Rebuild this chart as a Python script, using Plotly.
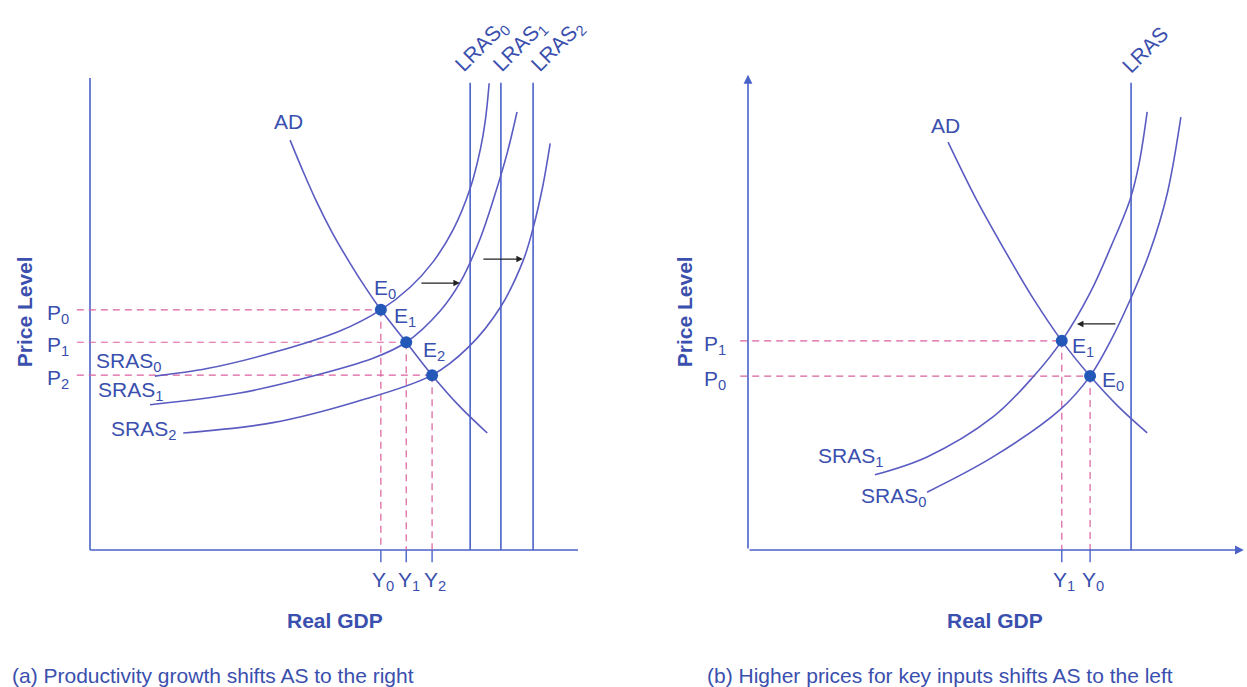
import plotly.graph_objects as go

# ---------------- DATA (arbitrary units) ----------------
# Panel (a): productivity growth shifts AS to the right
AD_A_X = [41.0, 43.4, 46.3, 49.6, 53.3, 56.6, 59.6, 64.8, 70.1, 75.8, 81.4]
AD_A_Y = [87.2, 81.2, 74.4, 67.6, 61.0, 55.6, 51.1, 44.2, 37.2, 30.5, 24.9]
SRAS0_A_X = [13.3, 24.0, 37.5, 51.2, 59.6, 65.6, 70.3, 74.4, 77.9, 80.0, 81.0, 81.8]
SRAS0_A_Y = [37.0, 38.6, 42.0, 46.6, 51.1, 55.9, 61.3, 68.1, 76.9, 85.3, 91.3, 99.3]
SRAS1_A_X = [12.3, 30.7, 44.5, 58.0, 64.8, 71.7, 76.0, 80.0, 83.0, 85.5, 87.5]
SRAS1_A_Y = [30.9, 33.4, 36.7, 40.8, 44.2, 50.8, 57.2, 66.4, 75.7, 84.5, 93.2]
SRAS2_A_X = [19.1, 37.5, 54.7, 70.1, 77.5, 84.0, 88.7, 90.8, 92.8, 94.3]
SRAS2_A_Y = [24.9, 27.1, 31.6, 37.2, 43.1, 51.5, 61.4, 68.5, 77.5, 86.5]
LRAS_A = [77.9, 84.2, 90.8]
EQ_A_NAMES = ["E<sub>0</sub>", "E<sub>1</sub>", "E<sub>2</sub>"]
EQ_A_X = [59.6, 64.8, 70.1]       # Y0, Y1, Y2
EQ_A_Y = [51.1, 44.2, 37.2]       # P0, P1, P2
P_A_LABELS = ["P<sub>0</sub>", "P<sub>1</sub>", "P<sub>2</sub>"]
Y_A_LABELS = ["Y<sub>0</sub>", "Y<sub>1</sub>", "Y<sub>2</sub>"]
LRAS_A_LABELS = ["LRAS<sub>0</sub>", "LRAS<sub>1</sub>", "LRAS<sub>2</sub>"]

# Panel (b): higher prices for key inputs shift AS to the left
AD_B_X = [41.0, 46.9, 53.7, 58.4, 64.3, 70.1, 75.8, 81.8]
AD_B_Y = [86.8, 74.4, 61.8, 53.6, 44.5, 37.0, 30.6, 24.9]
SRAS1_B_X = [26.0, 36.7, 50.2, 58.4, 64.3, 70.1, 74.4, 78.3, 80.1, 81.8]
SRAS1_B_Y = [16.0, 19.8, 28.3, 36.8, 44.5, 54.7, 64.6, 74.6, 82.0, 93.2]
SRAS0_B_X = [36.7, 50.2, 63.9, 70.1, 74.2, 78.3, 82.4, 85.9, 88.7]
SRAS0_B_Y = [12.3, 19.8, 29.8, 37.0, 44.3, 53.2, 63.6, 75.8, 92.1]
LRAS_B = 78.5
EQ_B_NAMES = ["E<sub>0</sub>", "E<sub>1</sub>"]
EQ_B_X = [70.1, 64.3]             # Y0, Y1
EQ_B_Y = [37.0, 44.5]             # P0, P1
P_B_LABELS = ["P<sub>0</sub>", "P<sub>1</sub>"]
Y_B_LABELS = ["Y<sub>0</sub>", "Y<sub>1</sub>"]

# ---------------- STYLE / LAYOUT ----------------
W, H = 1247, 687
SX, SY = 4.88, 4.7            # pixels per unit
ORIG_A = (90, 550)
ORIG_B = (748, 550)
SPLIT = 0.5

CURVE = "#5a5cc2"
AXIS = "#4a62c9"
TEXT = "#3a4fae"
DASH = "#d9609e"
DOT = "#2458b8"
ARROW = "#222222"
FONT = "Liberation Sans, Arial, sans-serif"
FS = 21

fig = go.Figure()


def line(x, y, xa, ya, color, width=1.5, dash=None, shape="linear"):
    fig.add_trace(go.Scatter(x=x, y=y, xaxis=xa, yaxis=ya, mode="lines",
                             line=dict(color=color, width=width, dash=dash, shape=shape,
                                       smoothing=1.0),
                             hoverinfo="skip", showlegend=False))


annotations = []


def label(text, x, y, xr, yr, size=FS, angle=0, xanchor="center", color=TEXT):
    annotations.append(dict(text=text, x=x, y=y, xref=xr, yref=yr, showarrow=False,
                            textangle=angle, xanchor=xanchor, yanchor="middle",
                            font=dict(family=FONT, size=size, color=color)))


def arrow(x0, y0, x1, y1, xr, yr, color=ARROW, width=1.3, head=2, size=1.0):
    annotations.append(dict(x=x1, y=y1, ax=x0, ay=y0, xref=xr, yref=yr, axref=xr, ayref=yr,
                            text="", showarrow=True, arrowhead=head, arrowsize=size,
                            arrowwidth=width, arrowcolor=color, standoff=0, startstandoff=0))


# ---------- Panel (a) ----------
xa, ya = "x", "y"
line([0, 0], [0, 100.4], xa, ya, AXIS, 1.6)
line([0, 100], [0, 0], xa, ya, AXIS, 1.6)
for v in LRAS_A:
    line([v, v], [0, 99.4], xa, ya, AXIS, 1.6)
for ex, ey in zip(EQ_A_X, EQ_A_Y):
    line([-2.7, ex], [ey, ey], xa, ya, DASH, 1.2, dash="7px,5px")
    line([ex, ex], [ey, 0], xa, ya, DASH, 1.2, dash="7px,5px")
    line([ex, ex], [0, -2.6], xa, ya, AXIS, 1.4)
line(SRAS0_A_X, SRAS0_A_Y, xa, ya, CURVE, 1.6, shape="spline")
line(SRAS1_A_X, SRAS1_A_Y, xa, ya, CURVE, 1.6, shape="spline")
line(SRAS2_A_X, SRAS2_A_Y, xa, ya, CURVE, 1.6, shape="spline")
line(AD_A_X, AD_A_Y, xa, ya, CURVE, 1.6, shape="spline")
fig.add_trace(go.Scatter(x=EQ_A_X, y=EQ_A_Y, xaxis=xa, yaxis=ya, mode="markers",
                         marker=dict(color=DOT, size=12), hoverinfo="skip", showlegend=False))

arrow(67.6, 56.8, 75.8, 56.8, xa, ya)
arrow(80.3, 61.9, 88.7, 61.9, xa, ya)

label("AD", 40.6, 91.1, xa, ya)
label(EQ_A_NAMES[0], 60.5, 55.5, xa, ya)
label(EQ_A_NAMES[1], 64.6, 49.6, xa, ya)
label(EQ_A_NAMES[2], 70.4, 42.4, xa, ya)
for t, py in zip(P_A_LABELS, EQ_A_Y):
    label(t, -6.6, py - 0.9, xa, ya)
for t, px in zip(Y_A_LABELS, EQ_A_X):
    label(t, px + 0.5, -6.5, xa, ya)
label("SRAS<sub>0</sub>", 7.8, 40.0, xa, ya)
label("SRAS<sub>1</sub>", 8.2, 33.9, xa, ya)
label("SRAS<sub>2</sub>", 10.9, 25.6, xa, ya)
for t, v, dx in zip(LRAS_A_LABELS, LRAS_A, [2.4, 3.9, 5.1]):
    label(t, v + dx, 107.3, xa, ya, angle=-45)
label("<b>Price Level</b>", -13.5, 50.6, xa, ya, angle=-90)
label("<b>Real GDP</b>", 50.2, -14.9, xa, ya)

# ---------- Panel (b) ----------
xb, yb = "x2", "y2"
arrow(0, 0, 0, 101.1, xb, yb, color=AXIS, width=1.6, head=2, size=1.1)
arrow(0, 0, 101.6, 0, xb, yb, color=AXIS, width=1.6, head=2, size=1.1)
line([LRAS_B, LRAS_B], [0, 99.4], xb, yb, AXIS, 1.6)
for ex, ey in zip(EQ_B_X, EQ_B_Y):
    line([-1.6, ex], [ey, ey], xb, yb, DASH, 1.2, dash="7px,5px")
    line([ex, ex], [ey, 0], xb, yb, DASH, 1.2, dash="7px,5px")
    line([ex, ex], [0, -2.6], xb, yb, AXIS, 1.4)
line(SRAS1_B_X, SRAS1_B_Y, xb, yb, CURVE, 1.6, shape="spline")
line(SRAS0_B_X, SRAS0_B_Y, xb, yb, CURVE, 1.6, shape="spline")
line(AD_B_X, AD_B_Y, xb, yb, CURVE, 1.6, shape="spline")
fig.add_trace(go.Scatter(x=EQ_B_X, y=EQ_B_Y, xaxis=xb, yaxis=yb, mode="markers",
                         marker=dict(color=DOT, size=12), hoverinfo="skip", showlegend=False))

arrow(75.6, 48.1, 67.4, 48.1, xb, yb)

label("AD", 40.4, 90.4, xb, yb)
label("LRAS", LRAS_B + 2.9, 106.4, xb, yb, angle=-45)
label(EQ_B_NAMES[0], 74.8, 36.0, xb, yb)
label(EQ_B_NAMES[1], 68.6, 43.2, xb, yb)
for t, py in zip(P_B_LABELS, EQ_B_Y):
    label(t, -6.8, py - 0.8, xb, yb)
for t, px in zip(Y_B_LABELS, EQ_B_X):
    label(t, px + 0.5, -6.5, xb, yb)
label("SRAS<sub>1</sub>", 21.1, 19.8, xb, yb)
label("SRAS<sub>0</sub>", 29.9, 11.3, xb, yb)
label("<b>Price Level</b>", -13.1, 50.6, xb, yb, angle=-90)
label("<b>Real GDP</b>", 50.6, -14.9, xb, yb)

# ---------- captions ----------
for txt, px in [("(a) Productivity growth shifts AS to the right", 10),
                ("(b) Higher prices for key inputs shifts AS to the left", 705)]:
    annotations.append(dict(text=txt, x=px / W, y=1 - 675 / H, xref="paper", yref="paper",
                            showarrow=False, xanchor="left", yanchor="middle",
                            font=dict(family=FONT, size=FS, color=TEXT)))


def xrange(orig_px, d0, d1):
    return [(d0 * W - orig_px) / SX, (d1 * W - orig_px) / SX]


yrng = [(ORIG_A[1] - H) / SY, ORIG_A[1] / SY]
ax_common = dict(visible=False, showgrid=False, zeroline=False, fixedrange=True)

fig.update_layout(
    width=W, height=H,
    margin=dict(l=0, r=0, t=0, b=0),
    paper_bgcolor="white", plot_bgcolor="rgba(0,0,0,0)",
    xaxis=dict(domain=[0, SPLIT], range=xrange(ORIG_A[0], 0, SPLIT), anchor="y", **ax_common),
    yaxis=dict(domain=[0, 1], range=yrng, anchor="x", **ax_common),
    xaxis2=dict(domain=[SPLIT, 1], range=xrange(ORIG_B[0], SPLIT, 1), anchor="y2", **ax_common),
    yaxis2=dict(domain=[0, 1], range=yrng, anchor="x2", **ax_common),
    annotations=annotations,
    showlegend=False,
    hovermode=False,
)

fig.write_html("out.html",
               config={"displayModeBar": False, "staticPlot": True},
               post_script="document.body.style.margin='0';document.body.style.overflow='hidden';")
